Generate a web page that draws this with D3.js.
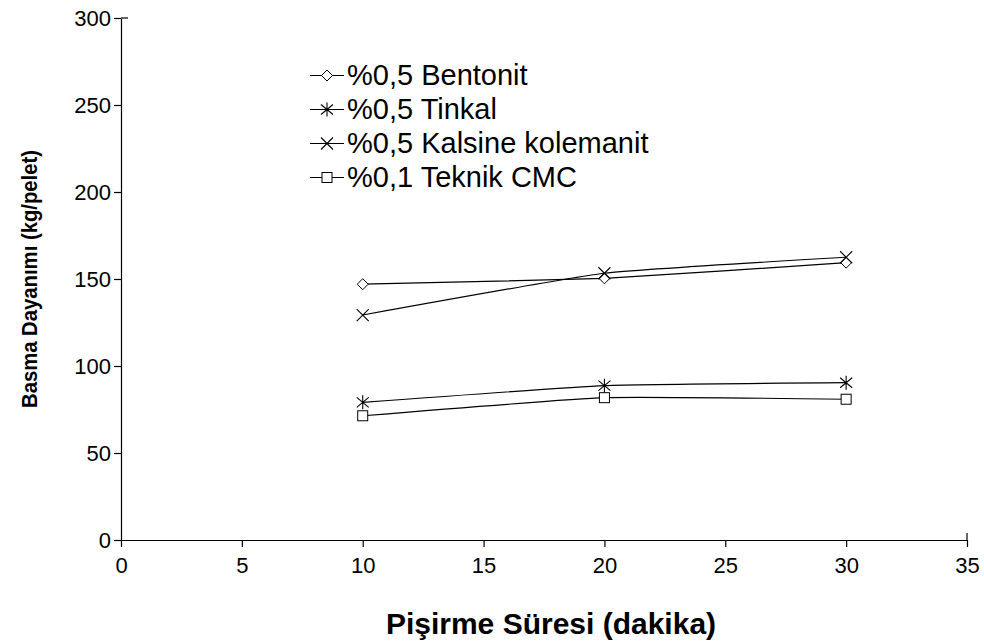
<!DOCTYPE html>
<html>
<head>
<meta charset="utf-8">
<script src="https://cdn.jsdelivr.net/npm/d3@7"></script>
<style>
  html, body { margin: 0; padding: 0; background: #fff; }
  svg { display: block; font-family: "Liberation Sans", Arial, sans-serif; }
</style>
</head>
<body>
<svg id="chart" width="984" height="644"></svg>
<script>
// Cooking time (minutes) and compressive strength (kg/pellet) per binder
const times = [10, 20, 30];
const bentonit = [147, 150.4, 159.4];
const tinkal = [79.1, 88.7, 90.4];
const kalsineKolemanit = [129.3, 153.3, 162.5];
const teknikCMC = [71.4, 81.8, 80.9];
const seriesNames = ["%0,5 Bentonit", "%0,5 Tinkal", "%0,5 Kalsine kolemanit", "%0,1 Teknik CMC"];
const seriesMarkers = ["diamond", "asterisk", "cross", "square"];
const xTicks = [0, 5, 10, 15, 20, 25, 30, 35];
const yTicks = [0, 50, 100, 150, 200, 250, 300];

const series = [bentonit, tinkal, kalsineKolemanit, teknikCMC].map((vals, i) => ({
  name: seriesNames[i], marker: seriesMarkers[i],
  points: times.map((t, j) => ({ x: t, y: vals[j] }))
}));

const svg = d3.select("#chart");
const plotLeft = 121, plotRight = 967, plotTop = 18, plotBottom = 540;

const x = d3.scaleLinear().domain([0, 35]).range([plotLeft, plotRight]);
const y = d3.scaleLinear().domain([0, 300]).range([plotBottom, plotTop]);

// Axes
const xAxis = svg.append("g").attr("transform", `translate(0,${plotBottom})`)
  .call(d3.axisBottom(x).tickValues(xTicks).tickSize(7).tickPadding(10).tickSizeOuter(0));
const yAxis = svg.append("g").attr("transform", `translate(${plotLeft},0)`)
  .call(d3.axisLeft(y).tickValues(yTicks).tickSize(7).tickPadding(3).tickSizeOuter(0));
[xAxis, yAxis].forEach(a => {
  a.selectAll("path").attr("stroke", "#000").attr("stroke-width", 1.2);
  a.selectAll("line").attr("stroke", "#000").attr("stroke-width", 1.2);
  a.selectAll("text").attr("fill", "#000").style("font-size", "22px")
    .style("font-family", "'Liberation Sans', Arial, sans-serif");
});
// Closing ticks at the far ends of both axes cross to the inside
svg.append("line").attr("x1", plotLeft).attr("x2", plotLeft + 7)
  .attr("y1", y(300)).attr("y2", y(300)).attr("stroke", "#000").attr("stroke-width", 1.2);
svg.append("line").attr("x1", x(35)).attr("x2", x(35))
  .attr("y1", plotBottom - 7).attr("y2", plotBottom).attr("stroke", "#000").attr("stroke-width", 1.2);

// Axis titles
svg.append("text").attr("x", 551).attr("y", 634)
  .attr("text-anchor", "middle").style("font-size", "30px").style("font-weight", "bold")
  .text("Pişirme Süresi (dakika)");
svg.append("text").attr("transform", `translate(37,279) rotate(-90)`)
  .attr("text-anchor", "middle").style("font-size", "21.5px").style("font-weight", "bold")
  .attr("textLength", 258).attr("lengthAdjust", "spacingAndGlyphs")
  .text("Basma Dayanımı (kg/pelet)");

// Marker glyphs
function drawMarker(g, type) {
  if (type === "diamond") {
    g.append("path").attr("d", "M0,-5.5L5.5,0L0,5.5L-5.5,0Z").attr("fill", "#fff").attr("stroke", "#000").attr("stroke-width", 1);
  } else if (type === "square") {
    g.append("rect").attr("x", -5).attr("y", -5).attr("width", 10).attr("height", 10)
      .attr("fill", "#fff").attr("stroke", "#000").attr("stroke-width", 1);
  } else if (type === "cross") {
    g.append("path").attr("d", "M-6,-6L6,6M-6,6L6,-6").attr("stroke", "#000").attr("stroke-width", 1.1);
  } else if (type === "asterisk") {
    g.append("path").attr("d", "M-6,-5L6,5M-6,5L6,-5M0,-7L0,7").attr("stroke", "#000").attr("stroke-width", 1.1);
  }
}

const line = d3.line().x(d => x(d.x)).y(d => y(d.y)).curve(d3.curveCardinal.tension(0.6));

series.forEach(s => {
  svg.append("path").datum(s.points).attr("d", line)
    .attr("fill", "none").attr("stroke", "#000").attr("stroke-width", 1.2);
});
series.forEach(s => {
  s.points.forEach(p => {
    const g = svg.append("g").attr("transform", `translate(${x(p.x)},${y(p.y)})`);
    drawMarker(g, s.marker);
  });
});

// Legend
const legend = svg.append("g").attr("transform", "translate(310,75.5)");
series.forEach((s, i) => {
  const row = legend.append("g").attr("transform", `translate(0,${i * 34})`);
  row.append("line").attr("x1", 0).attr("x2", 34).attr("y1", 0).attr("y2", 0)
    .attr("stroke", "#000").attr("stroke-width", 1.1);
  const m = row.append("g").attr("transform", "translate(17,0)");
  drawMarker(m, s.marker);
  row.append("text").attr("x", 37).attr("y", 9.5).style("font-size", "29px").text(s.name);
});
</script>
</body>
</html>
